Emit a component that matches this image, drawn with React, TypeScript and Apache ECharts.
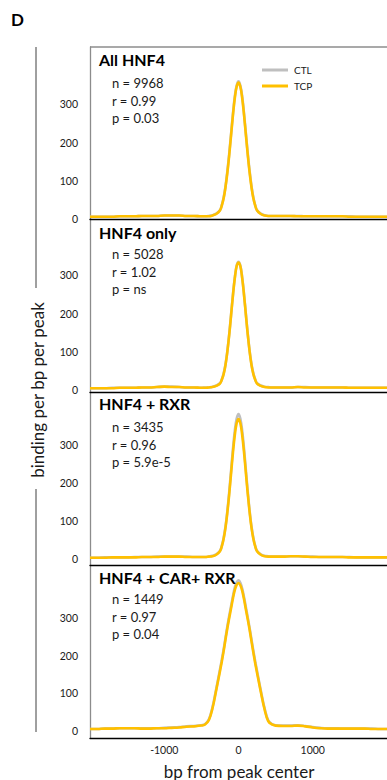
import React, { useEffect, useRef } from "react";
import * as echarts from "echarts";

// ---- data ----
const binPositions = [
  -2000, -1900, -1800, -1700, -1600, -1500, -1400, -1300, -1200, -1100, -1000, -900, -800, -700, -600, -500,
  -450, -400, -350, -300, -250,
  -225, -200, -175, -150, -125, -100, -75, -50, -25, 0, 25, 50, 75, 100, 125, 150, 175, 200, 225,
  250, 300, 350, 400, 450,
  500, 600, 700, 800, 900, 1000, 1100, 1200, 1300, 1400, 1500, 1600, 1700, 1800, 1900, 2000,
];

const allHnf4Tcp = [
  6, 6, 6, 6, 7, 7, 7, 8, 8, 8, 9, 9, 9, 8, 8, 7,
  7, 7, 9, 13, 22,
  35, 54, 83, 121, 167, 219, 271, 316, 346, 357, 346, 316, 271, 219, 167, 121, 83, 54, 35,
  22, 13, 9, 8, 8,
  8, 8, 8, 7, 7, 7, 7, 7, 7, 7, 6, 6, 6, 6, 6, 6,
];
const allHnf4Ctl = [
  6, 6, 6, 6, 7, 7, 7, 8, 8, 8, 9, 9, 9, 8, 8, 7,
  7, 8, 10, 14, 23,
  36, 56, 86, 125, 171, 223, 275, 320, 349, 360, 349, 320, 275, 223, 171, 125, 86, 56, 36,
  23, 14, 10, 8, 8,
  8, 8, 8, 8, 7, 7, 7, 7, 7, 7, 7, 6, 6, 6, 6, 6,
];

const hnf4OnlyTcp = [
  4, 4, 4, 4, 5, 5, 5, 6, 6, 7, 8, 7, 7, 6, 6, 5,
  5, 6, 7, 10, 16,
  26, 41, 65, 100, 144, 195, 247, 292, 324, 334, 324, 292, 247, 195, 144, 100, 65, 41, 26,
  16, 10, 7, 6, 6,
  6, 6, 6, 7, 6, 6, 6, 6, 6, 6, 5, 5, 5, 5, 5, 5,
];
const hnf4OnlyCtl = [
  4, 4, 4, 5, 5, 5, 5, 6, 6, 7, 8, 8, 7, 6, 6, 5,
  6, 6, 8, 11, 17,
  27, 43, 67, 102, 146, 197, 249, 294, 326, 336, 326, 294, 249, 197, 146, 102, 67, 43, 27,
  17, 11, 8, 7, 6,
  6, 6, 6, 7, 7, 6, 6, 6, 6, 6, 5, 5, 5, 5, 5, 5,
];

const hnf4RxrTcp = [
  4, 4, 4, 5, 5, 5, 5, 6, 6, 6, 7, 7, 7, 6, 6, 6,
  6, 7, 8, 12, 21,
  34, 54, 83, 123, 171, 225, 279, 325, 357, 368, 357, 325, 279, 225, 171, 123, 83, 54, 34,
  21, 12, 8, 7, 7,
  7, 7, 8, 8, 7, 6, 6, 6, 6, 6, 5, 5, 5, 5, 5, 5,
];
const hnf4RxrCtl = [
  4, 4, 5, 5, 5, 5, 6, 6, 6, 7, 7, 7, 7, 7, 6, 6,
  6, 7, 9, 13, 22,
  35, 56, 86, 127, 177, 233, 289, 337, 369, 381, 369, 337, 289, 233, 177, 127, 86, 56, 35,
  22, 13, 9, 8, 7,
  7, 7, 8, 8, 7, 7, 6, 6, 6, 6, 6, 5, 5, 5, 5, 5,
];

const hnf4CarRxrTcp = [
  5, 5, 6, 6, 7, 7, 7, 6, 6, 7, 7, 8, 9, 11, 12, 14,
  17, 28, 60, 108, 158,
  184, 212, 243, 273, 300, 326, 352, 374, 388, 393, 387, 372, 349, 322, 296, 268, 238, 208, 180,
  154, 104, 58, 26, 17,
  14, 13, 13, 14, 12, 9, 7, 6, 6, 6, 6, 6, 6, 5, 5, 5,
];
const hnf4CarRxrCtl = [
  5, 5, 6, 6, 7, 7, 7, 7, 7, 7, 8, 9, 10, 12, 13, 15,
  18, 30, 63, 112, 163,
  189, 217, 248, 278, 306, 332, 358, 381, 395, 400, 394, 378, 355, 328, 301, 273, 243, 213, 185,
  159, 108, 61, 28, 18,
  15, 14, 14, 15, 13, 10, 8, 7, 7, 6, 6, 6, 6, 6, 5, 5,
];

const panelTitles = ["All HNF4", "HNF4 only", "HNF4 + RXR", "HNF4 + CAR+ RXR"];
const peakCounts = ["9968", "5028", "3435", "1449"];
const ratioValues = ["0.99", "1.02", "0.96", "0.97"];
const pValues = ["0.03", "ns", "5.9e-5", "0.04"];
const ctlSeries = [allHnf4Ctl, hnf4OnlyCtl, hnf4RxrCtl, hnf4CarRxrCtl];
const tcpSeries = [allHnf4Tcp, hnf4OnlyTcp, hnf4RxrTcp, hnf4CarRxrTcp];
const seriesNames = ["CTL", "TCP"];
const yTickValues = [0, 100, 200, 300];
const xTickValues = [-1000, 0, 1000];
const xRange = [-2000, 2000];
const yMins = [0, -6, -15, -19];
const yMaxs = [450, 448, 439, 441];

// ---- layout / style ----
const W = 387;
const H = 780;
const PLOT_LEFT = 90;
const PLOT_WIDTH = 302;
const panelTops = [47, 219, 392, 565];
const PANEL_H = 173;
const titleYs = [61, 234, 405, 579];
const statYs = [83, 254, 427, 599];
const STAT_GAP = 17.6;
const CTL_COLOR = "#BFBFBF";
const TCP_COLOR = "#FFC000";
const FONT = "Lato, 'Open Sans', sans-serif";
const TEXT_COLOR = "#1a1a1a";

export default function App() {
  const ref = useRef<HTMLDivElement>(null);

  useEffect(() => {
    if (!ref.current) return;
    const chart = echarts.init(ref.current, null, { renderer: "svg" });

    const grids: any[] = [];
    const xAxes: any[] = [];
    const yAxes: any[] = [];
    const series: any[] = [];
    const graphics: any[] = [];

    for (let i = 0; i < 4; i++) {
      const last = i === 3;
      grids.push({
        left: PLOT_LEFT,
        top: panelTops[i],
        width: PLOT_WIDTH,
        height: i === 0 ? 172 : PANEL_H,
        containLabel: false,
      });
      xAxes.push({
        type: "value",
        gridIndex: i,
        min: xRange[0],
        max: xRange[1],
        position: "bottom",
        axisLine: { show: true, onZero: false, lineStyle: { color: "#000", width: 1.3 } },
        axisTick: { show: false },
        splitLine: { show: false },
        axisLabel: {
          show: last,
          customValues: xTickValues,
          formatter: (v: number) => String(v),
          margin: 6,
          fontSize: 10.5,
          fontFamily: FONT,
          color: TEXT_COLOR,
        },
      });
      yAxes.push({
        type: "value",
        gridIndex: i,
        min: yMins[i],
        max: yMaxs[i],
        axisLine: { show: true, onZero: false, lineStyle: { color: "#8c8c8c", width: 1.3 } },
        axisTick: { show: false },
        splitLine: { show: false },
        axisLabel: {
          customValues: yTickValues,
          formatter: (v: number) => String(v),
          margin: 12,
          fontSize: 10.5,
          fontFamily: FONT,
          color: TEXT_COLOR,
        },
      });
      const pairs = [ctlSeries[i], tcpSeries[i]];
      pairs.forEach((vals, k) => {
        series.push({
          type: "line",
          name: seriesNames[k],
          xAxisIndex: i,
          yAxisIndex: i,
          data: binPositions.map((x, j) => [x, vals[j]]),
          smooth: 0.4,
          symbol: "none",
          lineStyle: { color: k === 0 ? CTL_COLOR : TCP_COLOR, width: 2.6 },
          z: k === 0 ? 2 : 3,
        });
      });

      graphics.push({
        type: "text",
        left: 99,
        top: titleYs[i] - 10,
        style: {
          text: panelTitles[i],
          font: `bold 16px ${FONT}`,
          fill: "#000",
        },
        z: 10,
      });
      const stats = [`n = ${peakCounts[i]}`, `r = ${ratioValues[i]}`, `p = ${pValues[i]}`];
      stats.forEach((s, k) => {
        graphics.push({
          type: "text",
          x: 112,
          y: statYs[i] + k * STAT_GAP,
          style: {
            text: s,
            font: `13px ${FONT}`,
            fill: TEXT_COLOR,
            verticalAlign: "middle",
            align: "left",
          },
          z: 10,
        });
      });
    }

    // top border of plot area
    graphics.push({
      type: "line",
      shape: { x1: PLOT_LEFT, y1: 47, x2: W, y2: 47 },
      style: { stroke: "#8c8c8c", lineWidth: 1.3 },
      z: 5,
    });

    // legend (panel 1)
    seriesNames.forEach((name, k) => {
      const y = 70 + k * 16;
      graphics.push({
        type: "line",
        shape: { x1: 262, y1: y, x2: 288, y2: y },
        style: { stroke: k === 0 ? CTL_COLOR : TCP_COLOR, lineWidth: 3 },
        z: 10,
      });
      graphics.push({
        type: "text",
        x: 294,
        y,
        style: {
          text: name,
          font: `10px ${FONT}`,
          fill: TEXT_COLOR,
          verticalAlign: "middle",
          align: "left",
        },
        z: 10,
      });
    });

    // panel letter
    graphics.push({
      type: "text",
      x: 11,
      y: 19,
      style: { text: "D", font: `bold 17px ${FONT}`, fill: "#000", verticalAlign: "middle" },
    });

    // y-axis title with bracket line
    graphics.push({
      type: "text",
      x: 37,
      y: 390,
      rotation: Math.PI / 2,
      style: {
        text: "binding per bp per peak",
        font: `17px ${FONT}`,
        fill: TEXT_COLOR,
        align: "center",
        verticalAlign: "middle",
      },
    });
    graphics.push({
      type: "line",
      shape: { x1: 36, y1: 47, x2: 36, y2: 288 },
      style: { stroke: "#404040", lineWidth: 1 },
    });
    graphics.push({
      type: "line",
      shape: { x1: 36, y1: 489, x2: 36, y2: 732 },
      style: { stroke: "#404040", lineWidth: 1 },
    });

    // x-axis title
    graphics.push({
      type: "text",
      x: 239,
      y: 771,
      style: {
        text: "bp from peak center",
        font: `17px ${FONT}`,
        fill: TEXT_COLOR,
        align: "center",
        verticalAlign: "middle",
      },
    });

    chart.setOption({
      animation: false,
      backgroundColor: "#fff",
      grid: grids,
      xAxis: xAxes,
      yAxis: yAxes,
      series,
      graphic: graphics,
    });

    return () => chart.dispose();
  }, []);

  return (
    <div
      ref={ref}
      style={{ position: "fixed", left: 0, top: 0, width: W, height: H, background: "#fff" }}
    />
  );
}
